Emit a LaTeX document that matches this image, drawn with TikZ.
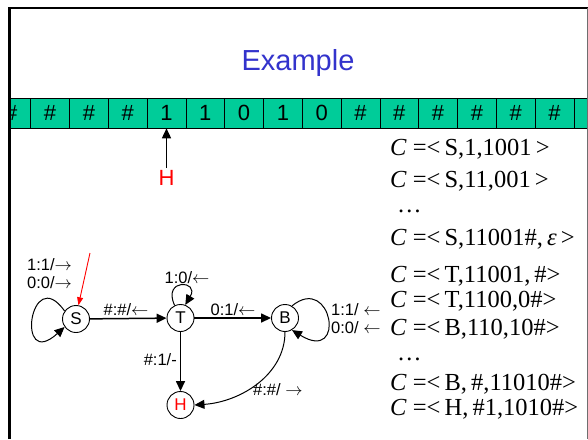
\documentclass[tikz,border=0pt]{standalone}
\usepackage{fontspec}
\setmainfont{Liberation Sans}
\newfontfamily\timesf{Liberation Serif}
\usetikzlibrary{arrows.meta}
\definecolor{tapegreen}{RGB}{0,204,153}
\definecolor{titleblue}{RGB}{51,51,204}
\definecolor{framegray}{RGB}{110,110,110}
\begin{document}
\begin{tikzpicture}[x=1pt,y=-1pt,
  cell/.style={draw,line width=0.6pt,fill=tapegreen,minimum width=38.8pt,minimum height=30pt,inner sep=0pt,font=\fontsize{22}{22}\selectfont},
  state/.style={circle,draw,line width=0.9pt,minimum size=27pt,inner sep=0pt,font=\fontsize{17}{17}\selectfont},
  lbl/.style={font=\fontsize{16.5}{17}\selectfont,inner sep=0pt},
  conf/.style={font=\timesf\fontsize{24.5}{24.5}\selectfont,anchor=base west,inner sep=0pt},
  tip/.style={-{Triangle[length=10pt,width=9pt]}},
  arr/.style={line width=1.5pt,tip},
  loopline/.style={line width=1pt,tip},
]
\useasboundingbox (0,0) rectangle (588,439);
% tape
\begin{scope}
\clip (10,90) rectangle (588,140);
\foreach \k/\sym in {0/\#,1/\#,2/\#,3/\#,4/1,5/1,6/0,7/1,8/0,9/\#,10/\#,11/\#,12/\#,13/\#,14/\#,15/\#}{
  \node[cell] (c\k) at ({11.3+38.8*\k},113) {\sym};
}
\end{scope}
% frame
\draw[line width=2.5pt] (9.5,439) -- (9.5,8) -- (588,8);
\draw[framegray,line width=0.8pt] (587,8) -- (587,439);
% title
\node[titleblue,font=\fontsize{29}{29}\selectfont] (title) at (298,63) {Example};
% head
\node[red,font=\fontsize{22}{22}\selectfont,inner sep=2pt] (head) at (166.5,178) {H};
\draw[arr] (head.north) -- (c4.south);
% configurations
\node[conf] (k1) at (390,155) {\textit{C} =<\,S,1,1001\,>};
\node[conf] (k2) at (390,187) {\textit{C} =<\,S,11,001\,>};
\node[conf] (k3) at (397,212) {\dots};
\node[conf] (k4) at (390,245) {\textit{C} =<\,S,11001\#,\,\textit{ε}\,>};
\node[conf] (k5) at (390,282) {\textit{C} =<\,T,11001,\,\#>};
\node[conf] (k6) at (390,307) {\textit{C} =<\,T,1100,0\#>};
\node[conf] (k7) at (390,335) {\textit{C} =<\,B,110,10\#>};
\node[conf] (k8) at (397,360) {\dots};
\node[conf] (k9) at (390,390) {\textit{C} =<\,B,\,\#,11010\#>};
\node[conf] (k10) at (390,415) {\textit{C} =<\,H,\,\#1,1010\#>};
% states
\node[state] (S) at (76,319) {S};
\node[state] (T) at (180.5,318) {T};
\node[state] (B) at (285,318) {B};
\node[state,text=red] (Hs) at (180.5,405) {H};
% start arrow
\coordinate (st) at (90,253);
\draw[red,line width=0.9pt,-{Triangle[length=8pt,width=6pt]}] (st) -- (S.80);
% edges
\draw[arr] (S) -- (T);
\node[lbl] (lst) at (126,310) {\#:\#/$\leftarrow$};
\draw[arr] (T) -- (B);
\node[lbl] (ltb) at (233,310) {0:1/$\leftarrow$};
\draw[arr] (T) -- (Hs);
\node[lbl,anchor=east] (lth) at (177,360) {\#:1/-};
\draw[line width=1pt,tip] (B.south) .. controls (285,375) and (240,402) .. (Hs.east);
\node[lbl,anchor=west] (lbh) at (253,390) {\#:\#/ $\rightarrow$};
% loops
\draw[loopline] (S.145) .. controls (30,262) and (15,372) .. (S.215);
\node[lbl,anchor=west] (ls1) at (27,265) {1:1/$\rightarrow$};
\node[lbl,anchor=west] (ls2) at (27,283) {0:0/$\rightarrow$};
\draw[loopline] (T.115) .. controls (162,278) and (200,280) .. (T.70);
\node[lbl] (lt) at (187,278) {1:0/$\leftarrow$};
\draw[loopline] (B.60) .. controls (332,273) and (347,364) .. (B.-60);
\node[lbl,anchor=west] (lb1) at (331,310) {1:1/ $\leftarrow$};
\node[lbl,anchor=west] (lb2) at (331,328) {0:0/ $\leftarrow$};
\end{tikzpicture}
\end{document}
